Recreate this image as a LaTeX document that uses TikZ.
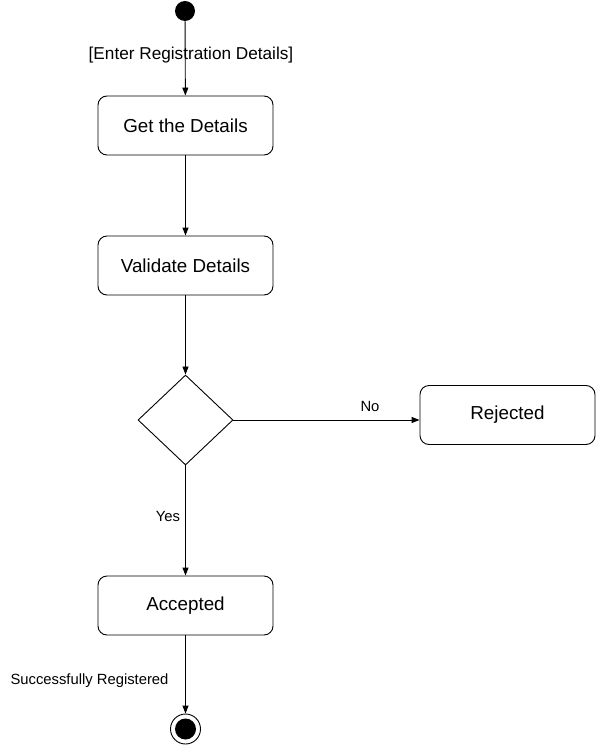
\documentclass[tikz,border=0pt]{standalone}
\usepackage{fontspec}
\setmainfont{Liberation Sans}
\usetikzlibrary{shapes.geometric,arrows.meta,calc}
\begin{document}
\begin{tikzpicture}[x=1pt,y=-1pt,
  actbox/.style={draw,line width=0.9pt,rounded corners=9pt,minimum width=175pt,minimum height=59pt,font=\fontsize{18.8}{20}\selectfont,inner sep=0pt},
  flow/.style={line width=0.9pt,-{Triangle[length=8pt,width=6pt]}},
  lbl/.style={font=\fontsize{14.8}{16}\selectfont,inner sep=0pt}]
\useasboundingbox (0,0) rectangle (596,746);
\node[circle,fill=black,minimum size=20pt,inner sep=0pt] (start) at (185,11) {};
\node[actbox] (get) at (185.5,125.5) {Get the Details};
\node[actbox] (val) at (185.5,265.5) {Validate Details};
\node[diamond,draw,line width=0.9pt,minimum width=95pt,minimum height=90pt,inner sep=0pt,aspect=1.05] (dec) at (185.5,420) {};
\node[actbox] (rej) at (507.5,415) {Rejected};
\node[actbox] (acc) at (185.5,605.5) {Accepted};
\node[circle,draw,line width=0.9pt,minimum size=30pt,inner sep=0pt] (endo) at (185.5,729) {};
\node[circle,fill=black,minimum size=21pt,inner sep=0pt] (endi) at (185.5,729) {};
\draw[flow] (start) -- (get);
\draw[flow] (get) -- (val);
\draw[flow] (val) -- (dec);
\draw[flow] (dec.east) -- (dec.east -| rej.west);
\draw[flow] (dec) -- (acc);
\draw[flow] (acc) -- (endo);
\node[lbl,font=\fontsize{17.2}{19}\selectfont] (l1) at (191,55) {[Enter Registration Details]};
\node[lbl] (l2) at (370,406) {No};
\node[lbl] (l3) at (168,516) {Yes};
\node[lbl] (l4) at (89.5,681) {Successfully Registered};
\end{tikzpicture}
\end{document}
